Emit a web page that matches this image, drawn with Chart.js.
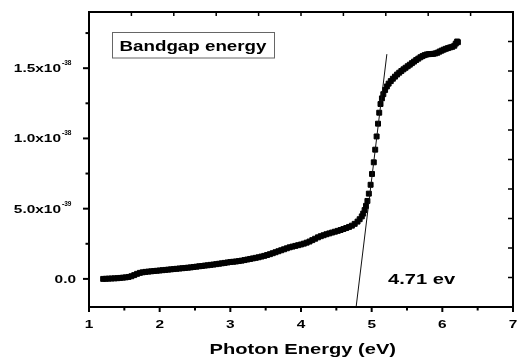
<!DOCTYPE html>
<html>
<head>
<meta charset="utf-8">
<script src="https://cdn.jsdelivr.net/npm/chart.js@4/dist/chart.umd.min.js"></script>
<style>
  body { margin: 0; background: #fff; }
  canvas { display: block; }
</style>
</head>
<body>
<canvas id="bandgap-chart" width="518" height="360"></canvas>
<script>
// values; absorbance in units of 1e-39
const yUnit = 1e-39;
const energy = [
  1.20, 1.24, 1.28, 1.32, 1.36, 1.40, 1.44, 1.48, 1.52, 1.56,
  1.60, 1.64, 1.68, 1.72, 1.76, 1.80, 1.84, 1.88, 1.92, 1.96,
  2.00, 2.04, 2.08, 2.12, 2.16, 2.20, 2.24, 2.28, 2.32, 2.36,
  2.40, 2.44, 2.48, 2.52, 2.56, 2.60, 2.64, 2.68, 2.72, 2.76,
  2.80, 2.84, 2.88, 2.92, 2.96, 3.00, 3.04, 3.08, 3.12, 3.16,
  3.20, 3.24, 3.28, 3.32, 3.36, 3.40, 3.44, 3.48, 3.52, 3.56,
  3.60, 3.64, 3.68, 3.72, 3.76, 3.80, 3.84, 3.88, 3.92, 3.96,
  4.00, 4.04, 4.08, 4.12, 4.16, 4.20, 4.24, 4.28, 4.32, 4.36,
  4.40, 4.44, 4.48, 4.52, 4.56, 4.60, 4.64, 4.68, 4.72, 4.76,
  4.80, 4.83, 4.86, 4.88, 4.90, 4.92, 4.94, 4.96, 4.985, 5.005,
  5.03, 5.05, 5.07, 5.09, 5.107, 5.125, 5.145, 5.165, 5.19, 5.215,
  5.24, 5.27, 5.30, 5.33, 5.36, 5.39, 5.42, 5.45, 5.48, 5.51,
  5.54, 5.57, 5.60, 5.63, 5.66, 5.69, 5.72, 5.75, 5.78, 5.81,
  5.84, 5.87, 5.90, 5.93, 5.96, 5.99, 6.02, 6.05, 6.08, 6.11,
  6.14, 6.17, 6.19, 6.21, 6.22
];
const absorbance = [
  0.00, 0.01, 0.02, 0.03, 0.04, 0.05, 0.07, 0.09, 0.11, 0.14,
  0.19, 0.27, 0.36, 0.43, 0.47, 0.50, 0.52, 0.54, 0.56, 0.58,
  0.60, 0.62, 0.64, 0.66, 0.68, 0.70, 0.72, 0.74, 0.76, 0.78,
  0.80, 0.82, 0.85, 0.87, 0.90, 0.92, 0.95, 0.97, 1.00, 1.02,
  1.05, 1.08, 1.11, 1.14, 1.17, 1.20, 1.22, 1.24, 1.27, 1.30,
  1.34, 1.38, 1.42, 1.46, 1.50, 1.54, 1.59, 1.64, 1.70, 1.76,
  1.83, 1.90, 1.97, 2.04, 2.11, 2.18, 2.25, 2.30, 2.35, 2.40,
  2.45, 2.51, 2.58, 2.66, 2.76, 2.86, 2.96, 3.04, 3.11, 3.18,
  3.24, 3.30, 3.36, 3.42, 3.48, 3.55, 3.62, 3.70, 3.79, 3.92,
  4.08, 4.25, 4.45, 4.65, 4.90, 5.20, 5.55, 6.07, 6.70, 7.47,
  8.30, 9.20, 10.14, 11.05, 11.83, 12.45, 12.85, 13.15, 13.45, 13.70,
  13.90, 14.08, 14.25, 14.40, 14.55, 14.68, 14.80, 14.92, 15.03, 15.14,
  15.25, 15.36, 15.47, 15.58, 15.68, 15.78, 15.86, 15.93, 15.98, 16.00,
  16.01, 16.02, 16.05, 16.10, 16.18, 16.25, 16.32, 16.38, 16.43, 16.48,
  16.52, 16.60, 16.75, 16.90, 16.85
];
// tangent (linear fit) drawn through the steep edge
const fitEnergy = [4.78, 5.215];
const fitAbsorbance = [-2.0, 16.0];

const xTicks = [1, 2, 3, 4, 5, 6, 7];
const xMinorTicks = [1.5, 2.5, 3.5, 4.5, 5.5, 6.5];
const yTicks = [0, 5, 10, 15];
const yMinorTicks = [2.5, 7.5, 12.5, 17.5];
const yTickText = ["0.0", "5.0x10", "1.0x10", "1.5x10"];
const yTickExp = ["", "-39", "-38", "-38"];

const legendText = "Bandgap energy";
const gapText = "4.71 ev";
const xTitle = "Photon Energy (eV)";

const fontFamily = "'Liberation Sans', Arial, sans-serif";
const stretch = 1.34;

function wideText(ctx, text, x, y, size, align) {
    ctx.save();
    ctx.font = "bold " + size + "px " + fontFamily;
    let w = ctx.measureText(text).width * stretch;
    let left = x;
    if (align === "center") left = x - w / 2;
    if (align === "right") left = x - w;
    ctx.translate(left, y);
    ctx.scale(stretch, 1);
    ctx.textAlign = "left";
    ctx.textBaseline = "alphabetic";
    ctx.fillText(text, 0, 0);
    ctx.restore();
}

const frameAndLabels = {
    id: "frameAndLabels",
    afterDraw(chart) {
        let ctx = chart.ctx;
        let area = chart.chartArea;
        let xs = chart.scales.x;
        let ys = chart.scales.y;
        ctx.save();
        ctx.fillStyle = "#000";
        ctx.strokeStyle = "#000";

        // box
        ctx.lineWidth = 2;
        ctx.strokeRect(area.left, area.top, area.right - area.left, area.bottom - area.top);

        // bottom ticks (outward)
        xTicks.forEach(function (v) {
            let px = xs.getPixelForValue(v);
            ctx.beginPath();
            ctx.moveTo(px, area.bottom);
            ctx.lineTo(px, area.bottom + 5);
            ctx.stroke();
            wideText(ctx, String(v), px, 328, 11.5, "center");
        });
        xMinorTicks.forEach(function (v) {
            let px = xs.getPixelForValue(v);
            ctx.beginPath();
            ctx.moveTo(px, area.bottom);
            ctx.lineTo(px, area.bottom + 3.5);
            ctx.stroke();
        });

        // left ticks (outward)
        yTicks.forEach(function (v, i) {
            let py = ys.getPixelForValue(v * yUnit);
            ctx.beginPath();
            ctx.moveTo(area.left, py);
            ctx.lineTo(area.left - 6, py);
            ctx.stroke();
            if (yTickExp[i] === "") {
                wideText(ctx, yTickText[i], 76, py + 4, 11.5, "right");
            } else {
                wideText(ctx, yTickText[i], 61, py + 4, 11.5, "right");
                ctx.font = "bold 6.5px " + fontFamily;
                ctx.textAlign = "left";
                ctx.fillText(yTickExp[i], 62, py - 3);
            }
        });
        yMinorTicks.forEach(function (v) {
            let py = ys.getPixelForValue(v * yUnit);
            ctx.beginPath();
            ctx.moveTo(area.left, py);
            ctx.lineTo(area.left - 3.5, py);
            ctx.stroke();
        });

        // top and right axes: ten equal divisions, ticks pointing in
        ctx.lineWidth = 1.5;
        for (let i = 1; i < 10; i++) {
            let px = area.left + (area.right - area.left) * i / 10;
            ctx.beginPath();
            ctx.moveTo(px, area.top);
            ctx.lineTo(px, area.top + 4);
            ctx.stroke();
            let py = area.top + (area.bottom - area.top) * i / 10;
            ctx.beginPath();
            ctx.moveTo(area.right, py);
            ctx.lineTo(area.right - 5, py);
            ctx.stroke();
        }

        // legend box
        ctx.lineWidth = 1;
        ctx.strokeStyle = "#666";
        ctx.strokeRect(112.5, 32.5, 162, 25.5);
        wideText(ctx, legendText, 119.5, 50.7, 14, "left");

        wideText(ctx, gapText, 388, 284, 15, "left");
        wideText(ctx, xTitle, 302.8, 354, 15, "center");
        ctx.restore();
    }
};

new Chart(document.getElementById("bandgap-chart"), {
    type: "scatter",
    data: {
        datasets: [
            {
                label: "fit",
                data: fitEnergy.map(function (e, i) {
                    return { x: e, y: fitAbsorbance[i] * yUnit };
                }),
                showLine: true,
                borderColor: "#111",
                borderWidth: 1,
                pointRadius: 0,
            },
            {
                label: legendText,
                data: energy.map(function (e, i) {
                    return { x: e, y: absorbance[i] * yUnit };
                }),
                pointStyle: "rect",
                pointRadius: 3.5,
                borderWidth: 1,
                backgroundColor: "#000",
                borderColor: "#000",
            },
        ],
    },
    options: {
        responsive: false,
        animation: false,
        layout: { padding: { left: 89, top: 12, right: 3, bottom: 53 } },
        plugins: {
            legend: { display: false },
            tooltip: { enabled: false },
        },
        scales: {
            x: { type: "linear", min: 1, max: 7, display: false },
            y: { type: "linear", min: -2 * yUnit, max: 19 * yUnit, display: false },
        },
    },
    plugins: [frameAndLabels],
});
</script>
</body>
</html>
